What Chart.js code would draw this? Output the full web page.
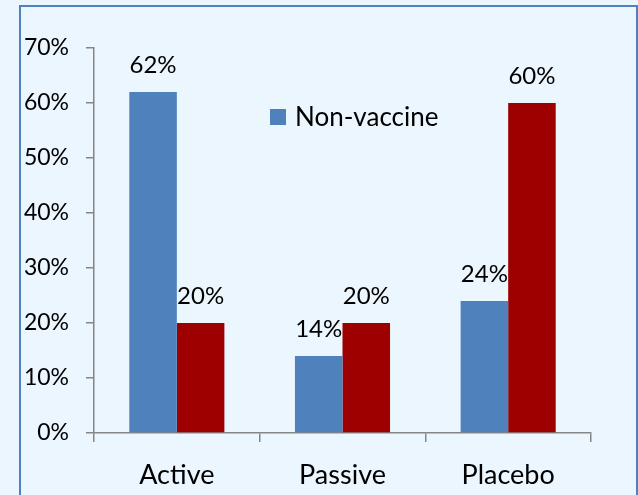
<!DOCTYPE html>
<html>
<head>
<meta charset="utf-8">
<script src="https://cdn.jsdelivr.net/npm/chart.js@4/dist/chart.umd.min.js"></script>
<style>
  html, body { margin: 0; padding: 0; background: #ebf6fe; }
  #wrap { width: 638px; height: 495px; position: relative; }
</style>
</head>
<body>
<div id="wrap"><canvas id="chart-groups"></canvas></div>
<script>
'use strict';

const groups      = ['Active', 'Passive', 'Placebo'];
const nonVaccine  = [62, 14, 24];
const vaccine     = [20, 20, 60];
const yTicks      = [0, 10, 20, 30, 40, 50, 60, 70];

const FONT  = 'Lato, "Open Sans", sans-serif';
const BLUE  = '#4f81bd';
const RED   = '#9e0000';
const AXIS  = '#868686';

// ─── Panel background + frame ─────────────────────────────────
const framePlugin = {
  id: 'frame',
  beforeDraw(chart) {
    const { ctx, width, height } = chart;
    ctx.save();
    ctx.fillStyle = '#ebf6fe';
    ctx.fillRect(0, 0, width, height);
    ctx.strokeStyle = '#4f81bd';
    ctx.lineWidth = 2;
    ctx.strokeRect(20, 6, 617, height + 20);
    ctx.restore();
  },
};

// ─── Value labels above each bar ─────────────────────────────
const valueLabels = {
  id: 'valueLabels',
  afterDatasetsDraw(chart) {
    const { ctx } = chart;
    ctx.save();
    ctx.font = `24px ${FONT}`;
    ctx.fillStyle = '#000';
    ctx.textAlign = 'center';
    ctx.textBaseline = 'alphabetic';
    chart.data.datasets.forEach((ds, i) => {
      chart.getDatasetMeta(i).data.forEach((bar, j) => {
        ctx.fillText(ds.data[j] + '%', bar.x, bar.y - 19);
      });
    });
    ctx.restore();
  },
};

// ─── Single-entry legend floating inside the plot ────────────
const floatLegend = {
  id: 'floatLegend',
  afterDraw(chart) {
    const { ctx, chartArea } = chart;
    const ds = chart.data.datasets[0];
    const x = chartArea.left + 176;
    const y = 117;
    ctx.save();
    ctx.fillStyle = ds.backgroundColor;
    ctx.fillRect(x, y - 8, 16, 16);
    ctx.font = `26px ${FONT}`;
    ctx.fillStyle = '#000';
    ctx.textBaseline = 'middle';
    ctx.fillText(ds.label, x + 25, y + 1);
    ctx.restore();
  },
};

new Chart(document.getElementById('chart-groups').getContext('2d'), {
  type: 'bar',
  data: {
    labels: groups,
    datasets: [
      { label: 'Non-vaccine', data: nonVaccine, backgroundColor: BLUE, borderWidth: 0 },
      { label: 'Vaccine',     data: vaccine,    backgroundColor: RED,  borderWidth: 0 },
    ],
  },
  options: {
    responsive: true,
    maintainAspectRatio: false,
    animation: false,
    categoryPercentage: 0.574,
    barPercentage: 1,
    layout: { padding: { left: 0, right: 47, top: 48, bottom: 0 } },
    plugins: { legend: { display: false }, tooltip: { enabled: false } },
    scales: {
      x: {
        afterFit: s => { s.height = 62; },
        grid: { display: true, drawOnChartArea: false, offset: true, tickLength: 9, color: AXIS, lineWidth: 1.5 },
        border: { color: AXIS, width: 1.5 },
        ticks: { color: '#000', font: { family: FONT, size: 27 }, padding: 17 },
      },
      y: {
        min: 0,
        max: 70,
        afterBuildTicks: s => { s.ticks = yTicks.map(v => ({ value: v })); },
        afterFit: s => { s.width = 94; },
        grid: { drawOnChartArea: false, tickLength: 8, color: AXIS, lineWidth: 1.5 },
        border: { color: AXIS, width: 1.5 },
        ticks: { color: '#000', font: { family: FONT, size: 23 }, padding: 17, callback: v => v + '%' },
      },
    },
  },
  plugins: [framePlugin, valueLabels, floatLegend],
});
</script>
</body>
</html>
